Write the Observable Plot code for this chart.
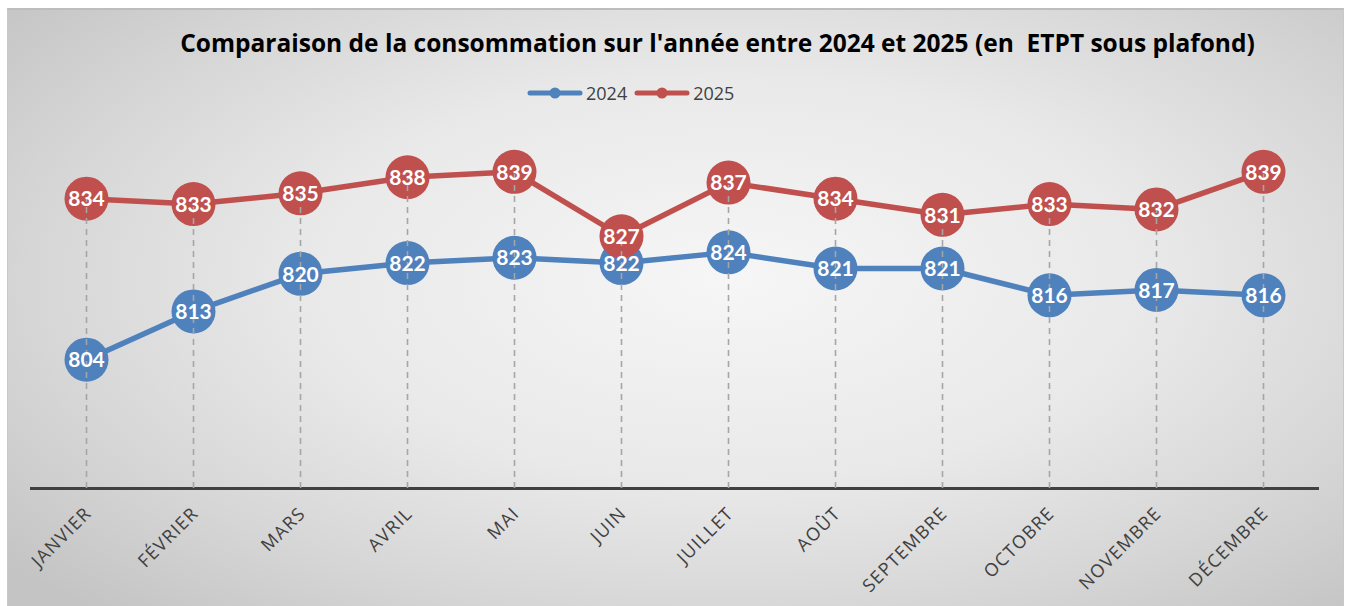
<!DOCTYPE html>
<html><head><meta charset="utf-8">
<script src="https://cdn.jsdelivr.net/npm/d3@7"></script>
<script src="https://cdn.jsdelivr.net/npm/@observablehq/plot@0.6"></script>
<style>
html,body{margin:0;padding:0;background:#fff;width:1345px;height:606px;overflow:hidden;}
#frame{position:absolute;left:7px;top:8px;width:1335px;height:600px;border-top:2px solid #bdbdbd;border-left:1px solid #c8c8c8;border-right:1px solid #c8c8c8;
background:radial-gradient(ellipse 70% 75% at 54% 45%, #f6f6f6 0%, #e9e9e9 45%, #d6d6d6 75%, #c4c4c4 100%);}
#title{position:absolute;left:0;width:1345px;top:26px;text-align:center;font:bold 24.5px "Open Sans", sans-serif;color:#000;white-space:pre;padding-left:90px;box-sizing:border-box;}
#legend{position:absolute;left:527px;top:81px;font:18px "Open Sans", sans-serif;color:#404040;display:flex;align-items:center;gap:3px;}
#legend .item{display:flex;align-items:center;gap:3px;margin-right:4px;}
#chart{position:absolute;left:0;top:120px;}
#chart g[aria-label="x-axis tick label"] text{letter-spacing:1.3px;}
</style></head>
<body>
<div id="frame"></div>
<div id="title"></div>
<div id="legend"></div>
<div id="chart"></div>
<script>
const titleText = "Comparaison de la consommation sur l'année entre 2024 et 2025 (en  ETPT sous plafond)";
const months = ["JANVIER","FÉVRIER","MARS","AVRIL","MAI","JUIN","JUILLET","AOÛT","SEPTEMBRE","OCTOBRE","NOVEMBRE","DÉCEMBRE"];
const seriesNames = ["2024","2025"];
const values2024 = [804,813,820,822,823,822,824,821,821,816,817,816];
const values2025 = [834,833,835,838,839,827,837,834,831,833,832,839];
const colors = ["#4F81BD","#C0504D"];

document.getElementById("title").textContent = titleText;
const leg = document.getElementById("legend");
seriesNames.forEach((n,i)=>{
  const d = document.createElement("div"); d.className="item";
  d.innerHTML = `<svg width="56" height="12"><line x1="3" y1="6" x2="53" y2="6" stroke="${colors[i]}" stroke-width="5" stroke-linecap="round"/><circle cx="28" cy="6" r="5.5" fill="${colors[i]}"/></svg><span>${n}</span>`;
  leg.appendChild(d);
});

const data = [];
months.forEach((m,i)=>{
  data.push({month:m, series:seriesNames[0], value:values2024[i]});
  data.push({month:m, series:seriesNames[1], value:values2025[i]});
});
const tops = months.map((m,i)=>({month:m, value:Math.max(values2024[i], values2025[i])}));

const chart = Plot.plot({
  width:1345, height:486,
  marginLeft:30, marginRight:26, marginTop:46, marginBottom:118,
  style:{background:"transparent", overflow:"visible"},
  x:{type:"point", domain:months, padding:0.5, label:null},
  y:{domain:[780,840], axis:null},
  color:{domain:seriesNames, range:colors},
  marks:[
    Plot.ruleY([780], {stroke:"#404040", strokeWidth:3}),
    Plot.lineY(data, {x:"month", y:"value", z:"series", stroke:"series", strokeWidth:5.5}),
    Plot.dot(data, {x:"month", y:"value", fill:"series", r:22, stroke:null}),
    Plot.ruleX(tops, {x:"month", y1:780, y2:"value", stroke:"#a6a6a6", strokeWidth:1.6, strokeDasharray:"6,5"}),
    Plot.text(data, {x:"month", y:"value", text:d=>String(d.value), fill:"white", fontWeight:"bold", fontSize:21, fontFamily:"Lato, sans-serif", dy:1}),
    Plot.axisX({tickSize:0, tickRotate:-45, tickPadding:22, fontSize:18, fontFamily:"'Open Sans', sans-serif", color:"#404040", label:null, dx:2})
  ]
});
document.getElementById("chart").appendChild(chart);
</script>
</body></html>
